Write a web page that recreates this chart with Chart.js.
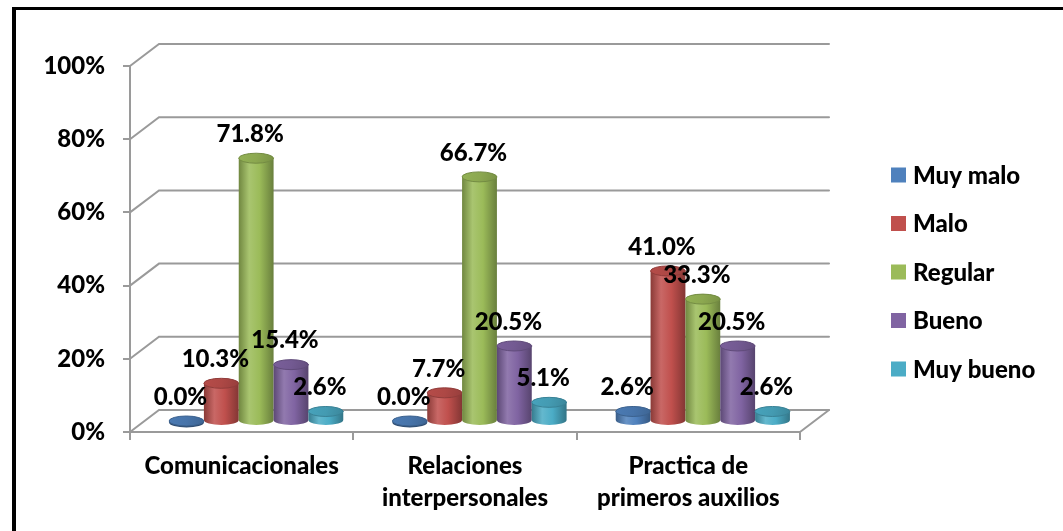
<!DOCTYPE html>
<html>
<head>
<meta charset="utf-8">
<title>Evaluación por dimensión</title>
<script src="https://cdn.jsdelivr.net/npm/chart.js@4.4.1/dist/chart.umd.min.js"></script>
<style>
  html, body { margin: 0; padding: 0; background: #fff; }
  .wrap { position: relative; width: 1063px; height: 531px; }
  .frame {
    position: absolute; left: 12px; top: 7px; right: 0; bottom: 0;
    border-top: 3px solid #000; border-left: 4px solid #000;
    pointer-events: none;
  }
</style>
</head>
<body>
<div class="wrap">
  <canvas id="chart"></canvas>
  <div class="frame"></div>
</div>
<script>
// Categories (multi-line labels are arrays)
const categories = [
  "Comunicacionales",
  ["Relaciones", "interpersonales"],
  ["Practica de", "primeros auxilios"],
];

// Percentages per rating, one array per series
const muyMalo = [0.0, 0.0, 2.6];
const malo = [10.3, 7.7, 41.0];
const regular = [71.8, 66.7, 33.3];
const bueno = [15.4, 20.5, 20.5];
const muyBueno = [2.6, 5.1, 2.6];

const seriesNames = ["Muy malo", "Malo", "Regular", "Bueno", "Muy bueno"];
const seriesColors = ["#4F81BD", "#C0504D", "#9BBB59", "#8064A2", "#4BACC6"];
const yTicks = [0, 20, 40, 60, 80, 100];

const FONT = { family: "Lato, 'Open Sans', sans-serif", size: 24, weight: "900" };
const GRID = "#9a9a9a";

// 3D look: depth of the floor / back wall, bars stand halfway back
const DEPTH_X = 29;
const DEPTH_Y = -22;
const BAR_DX = DEPTH_X / 2;
const BAR_DY = DEPTH_Y / 2;

function shade(hex, f) {
  const n = parseInt(hex.slice(1), 16);
  let r = n >> 16, g = (n >> 8) & 255, b = n & 255;
  if (f <= 1) {
    r *= f; g *= f; b *= f;
  } else {
    const t = f - 1;
    r += (255 - r) * t; g += (255 - g) * t; b += (255 - b) * t;
  }
  return `rgb(${Math.round(r)},${Math.round(g)},${Math.round(b)})`;
}

function drawCylinder(ctx, x, top, base, w, color) {
  const rx = w / 2;
  const ry = 5;
  const left = x - rx;
  const right = x + rx;

  if (base - top > 0.5) {
    const body = ctx.createLinearGradient(left, 0, right, 0);
    body.addColorStop(0, shade(color, 0.72));
    body.addColorStop(0.3, shade(color, 1.14));
    body.addColorStop(0.6, color);
    body.addColorStop(1, shade(color, 0.68));
    ctx.beginPath();
    ctx.moveTo(left, top);
    ctx.lineTo(left, base);
    ctx.ellipse(x, base, rx, ry, 0, Math.PI, 0, true);
    ctx.lineTo(right, top);
    ctx.closePath();
    ctx.fillStyle = body;
    ctx.fill();
  } else {
    // flat disc for a zero value: show its lower rim
    ctx.beginPath();
    ctx.ellipse(x, base + 1.5, rx, ry, 0, 0, Math.PI * 2);
    ctx.fillStyle = shade(color, 0.6);
    ctx.fill();
  }

  const cap = ctx.createLinearGradient(left, top - ry, right, top + ry);
  cap.addColorStop(0, shade(color, 0.95));
  cap.addColorStop(0.5, shade(color, 0.9));
  cap.addColorStop(1, shade(color, 0.78));
  ctx.beginPath();
  ctx.ellipse(x, top, rx, ry, 0, 0, Math.PI * 2);
  ctx.fillStyle = cap;
  ctx.fill();
  ctx.lineWidth = 1;
  ctx.strokeStyle = shade(color, 0.75);
  ctx.stroke();
}

// back wall, floor and cylinders are drawn here instead of plain bars
const cylinderPlugin = {
  id: "cylinders",
  beforeDatasetsDraw(chart) {
    const { ctx, chartArea, scales } = chart;
    const yScale = scales.y;

    ctx.save();
    ctx.strokeStyle = GRID;
    ctx.lineWidth = 2;
    ctx.lineCap = "round";
    yTicks.forEach((v) => {
      const y = yScale.getPixelForValue(v);
      ctx.beginPath();
      ctx.moveTo(chartArea.left, y);
      ctx.lineTo(chartArea.left + DEPTH_X, y + DEPTH_Y);
      ctx.lineTo(chartArea.right + DEPTH_X, y + DEPTH_Y);
      ctx.stroke();
    });
    // right edge of the floor
    const y0 = yScale.getPixelForValue(0);
    ctx.beginPath();
    ctx.moveTo(chartArea.right, y0);
    ctx.lineTo(chartArea.right + DEPTH_X, y0 + DEPTH_Y);
    ctx.stroke();

    ctx.translate(BAR_DX, BAR_DY);
    chart.data.datasets.forEach((ds, i) => {
      const meta = chart.getDatasetMeta(i);
      if (meta.hidden) return;
      meta.data.forEach((bar) => {
        drawCylinder(ctx, bar.x, bar.y, bar.base, bar.width, ds.baseColor);
      });
    });

    // value labels on top
    ctx.font = `${FONT.weight} ${FONT.size}px ${FONT.family}`;
    ctx.fillStyle = "#000";
    ctx.textAlign = "center";
    ctx.textBaseline = "middle";
    chart.data.datasets.forEach((ds, i) => {
      const meta = chart.getDatasetMeta(i);
      meta.data.forEach((bar, j) => {
        ctx.fillText(ds.data[j].toFixed(1) + "%", bar.x - 6, bar.y - 24);
      });
    });
    ctx.restore();
    return false;
  },
  afterDraw(chart) {
    // legend on the right
    const { ctx } = chart;
    ctx.save();
    ctx.font = `${FONT.weight} ${FONT.size}px ${FONT.family}`;
    ctx.textAlign = "left";
    ctx.textBaseline = "middle";
    chart.data.datasets.forEach((ds, i) => {
      const cy = 175 + i * 48.5;
      ctx.fillStyle = ds.baseColor;
      ctx.fillRect(891, cy - 7.5, 15, 15);
      ctx.fillStyle = "#000";
      ctx.fillText(ds.label, 913, cy + 1);
    });
    ctx.restore();
  },
};

const seriesData = [muyMalo, malo, regular, bueno, muyBueno];

new Chart(document.getElementById("chart"), {
  type: "bar",
  data: {
    labels: categories,
    datasets: seriesData.map((values, i) => ({
      label: seriesNames[i],
      data: values,
      baseColor: seriesColors[i],
      backgroundColor: seriesColors[i],
      barPercentage: 1,
      categoryPercentage: 0.78,
    })),
  },
  options: {
    responsive: true,
    maintainAspectRatio: false,
    animation: false,
    layout: { padding: { left: 0, right: 263, top: 66, bottom: 0 } },
    plugins: {
      legend: { display: false },
      tooltip: { enabled: false },
    },
    scales: {
      x: {
        afterFit: (s) => { s.height = 99; },
        border: { display: true, color: GRID, width: 2 },
        grid: { drawOnChartArea: false, drawTicks: true, tickLength: 8, color: GRID, lineWidth: 2, offset: true },
        ticks: {
          color: "#000",
          font: { ...FONT, lineHeight: 1.3 },
          padding: 11,
          maxRotation: 0,
          autoSkip: false,
        },
      },
      y: {
        min: 0,
        max: 100,
        afterFit: (s) => { s.width = 130; },
        border: { display: true, color: GRID, width: 2 },
        grid: { drawOnChartArea: false, drawTicks: true, tickLength: 7, color: GRID, lineWidth: 2 },
        ticks: {
          stepSize: 20,
          color: "#000",
          font: FONT,
          padding: 18,
          callback: (v) => v + "%",
        },
      },
    },
  },
  plugins: [cylinderPlugin],
});
</script>
</body>
</html>
